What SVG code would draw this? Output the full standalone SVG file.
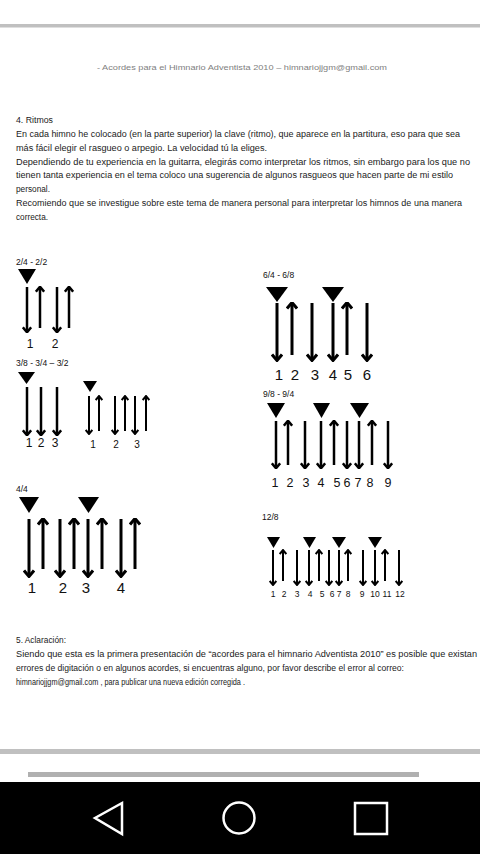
<svg xmlns="http://www.w3.org/2000/svg" width="480" height="854" viewBox="0 0 480 854">
<defs>
<marker id="ah" viewBox="0 0 12 12" refX="9.5" refY="6" markerWidth="4" markerHeight="4" markerUnits="strokeWidth" orient="auto">
<path d="M5,1 L11,6 L5,11" fill="none" stroke="#000" stroke-width="3"/>
</marker>
<style>
.t{font-family:"Liberation Sans",Arial,sans-serif;fill:#1a1a1a;font-size:8.5px}
.h{font-family:"Liberation Sans",Arial,sans-serif;fill:#111;font-size:8.5px}
.n{font-family:"Liberation Sans",Arial,sans-serif;fill:#111;text-anchor:middle}
.a{stroke:#000;fill:none;marker-end:url(#ah)}
.tri{fill:#000}
</style>
</defs>
<rect width="480" height="854" fill="#fff"/>
<rect x="0" y="24" width="480" height="3.5" fill="#c0c0c0"/>
<text x="242" y="70" text-anchor="middle" style="font-family:'Liberation Sans',Arial,sans-serif;font-size:8px;fill:#808080" textLength="290" lengthAdjust="spacingAndGlyphs">- Acordes para el Himnario Adventista 2010 – himnariojjgm@gmail.com</text>

<g id="section4">
<text class="t" x="16" y="123" textLength="37" lengthAdjust="spacingAndGlyphs">4. Ritmos</text>
<text class="t" x="16" y="137" textLength="444" lengthAdjust="spacingAndGlyphs">En cada himno he colocado (en la parte superior) la clave (ritmo), que aparece en la partitura, eso para que sea</text>
<text class="t" x="16" y="151" textLength="251" lengthAdjust="spacingAndGlyphs">más fácil elegir el rasgueo o arpegio.  La velocidad tú la eliges.</text>
<text class="t" x="16" y="165" textLength="454" lengthAdjust="spacingAndGlyphs">Dependiendo de tu experiencia en la guitarra, elegirás como interpretar los ritmos, sin embargo para los que no</text>
<text class="t" x="16" y="178" textLength="437" lengthAdjust="spacingAndGlyphs">tienen tanta experiencia en el tema coloco una sugerencia de algunos rasgueos que hacen parte de mi estilo</text>
<text class="t" x="16" y="192" textLength="34" lengthAdjust="spacingAndGlyphs">personal.</text>
<text class="t" x="16" y="206" textLength="446" lengthAdjust="spacingAndGlyphs">Recomiendo que se investigue sobre este tema de manera personal para interpretar los himnos de una manera</text>
<text class="t" x="16" y="220" textLength="32" lengthAdjust="spacingAndGlyphs">correcta.</text>
</g>

<g id="r24">
<text class="h" x="16" y="265">2/4 - 2/2</text>
<polygon class="tri" points="18,269 36,269 27,284"/>
<g class="a" stroke-width="2.5">
<line x1="27" y1="287" x2="27" y2="331"/>
<line x1="40" y1="328" x2="40" y2="288"/>
<line x1="57" y1="287" x2="57" y2="331"/>
<line x1="69" y1="328" x2="69" y2="288"/>
</g>
<g class="n" font-size="12"><text x="30" y="348">1</text><text x="55" y="348">2</text></g>
</g>

<g id="r38">
<text class="h" x="16" y="366">3/8 - 3/4 – 3/2</text>
<polygon class="tri" points="18,372 35,372 26.5,384"/>
<g class="a" stroke-width="2.5">
<line x1="27" y1="387" x2="27" y2="434"/>
<line x1="41" y1="387" x2="41" y2="434"/>
<line x1="57" y1="387" x2="57" y2="434"/>
</g>
<g class="n" font-size="12"><text x="29" y="447">1</text><text x="41" y="447">2</text><text x="55" y="447">3</text></g>
</g>

<g id="r38b">
<polygon class="tri" points="83,381 97,381 90,392"/>
<g class="a" stroke-width="2">
<line x1="89" y1="396" x2="89" y2="433"/>
<line x1="99" y1="431" x2="99" y2="397"/>
<line x1="115" y1="396" x2="115" y2="433"/>
<line x1="125" y1="431" x2="125" y2="397"/>
<line x1="135" y1="396" x2="135" y2="433"/>
<line x1="146" y1="431" x2="146" y2="397"/>
</g>
<g class="n" font-size="10"><text x="93" y="448">1</text><text x="116" y="448">2</text><text x="137" y="448">3</text></g>
</g>

<g id="r44">
<text class="h" x="16" y="492">4/4</text>
<polygon class="tri" points="19,497 39,497 29,513"/>
<polygon class="tri" points="78,497 99,497 88.5,513"/>
<g class="a" stroke-width="3">
<line x1="29" y1="519" x2="29" y2="575"/>
<line x1="43" y1="569" x2="43" y2="520"/>
<line x1="60" y1="519" x2="60" y2="575"/>
<line x1="74" y1="569" x2="74" y2="520"/>
<line x1="88" y1="519" x2="88" y2="575"/>
<line x1="102" y1="569" x2="102" y2="520"/>
<line x1="121" y1="519" x2="121" y2="575"/>
<line x1="135" y1="569" x2="135" y2="520"/>
</g>
<g class="n" font-size="15"><text x="32" y="593">1</text><text x="63" y="593">2</text><text x="86" y="593">3</text><text x="121" y="593">4</text></g>
</g>

<g id="r64">
<text class="h" x="263" y="278">6/4 - 6/8</text>
<polygon class="tri" points="266,287 288,287 277,302"/>
<polygon class="tri" points="322,287 344,287 333,302"/>
<g class="a" stroke-width="3">
<line x1="277" y1="303" x2="277" y2="359"/>
<line x1="292" y1="355" x2="292" y2="304"/>
<line x1="312" y1="303" x2="312" y2="359"/>
<line x1="333" y1="303" x2="333" y2="359"/>
<line x1="347" y1="355" x2="347" y2="304"/>
<line x1="367" y1="303" x2="367" y2="359"/>
</g>
<g class="n" font-size="15"><text x="279" y="380">1</text><text x="295" y="380">2</text><text x="315" y="380">3</text><text x="333" y="380">4</text><text x="348" y="380">5</text><text x="367" y="380">6</text></g>
</g>

<g id="r98">
<text class="h" x="263" y="397">9/8 - 9/4</text>
<polygon class="tri" points="267,403 285,403 276,418"/>
<polygon class="tri" points="313,403 330,403 321.5,418"/>
<polygon class="tri" points="350,403 369,403 359.5,418"/>
<g class="a" stroke-width="2.5">
<line x1="276" y1="421" x2="276" y2="467"/>
<line x1="288" y1="465" x2="288" y2="422"/>
<line x1="305" y1="421" x2="305" y2="467"/>
<line x1="321" y1="421" x2="321" y2="467"/>
<line x1="334" y1="465" x2="334" y2="422"/>
<line x1="347" y1="421" x2="347" y2="467"/>
<line x1="359" y1="421" x2="359" y2="467"/>
<line x1="372" y1="465" x2="372" y2="422"/>
<line x1="388" y1="421" x2="388" y2="467"/>
</g>
<g class="n" font-size="12.5"><text x="275" y="487">1</text><text x="290" y="487">2</text><text x="306" y="487">3</text><text x="321" y="487">4</text><text x="337" y="487">5</text><text x="347" y="487">6</text><text x="358" y="487">7</text><text x="370" y="487">8</text><text x="388" y="487">9</text></g>
</g>

<g id="r128">
<text class="h" x="262" y="520">12/8</text>
<polygon class="tri" points="267,537 280,537 273.5,548"/>
<polygon class="tri" points="303,537 316,537 309.5,548"/>
<polygon class="tri" points="332,537 346,537 339,548"/>
<polygon class="tri" points="368,537 382,537 375,548"/>
<g class="a" stroke-width="2">
<line x1="273" y1="550" x2="273" y2="584"/>
<line x1="283" y1="581" x2="283" y2="551"/>
<line x1="297" y1="550" x2="297" y2="584"/>
<line x1="309" y1="550" x2="309" y2="584"/>
<line x1="319" y1="581" x2="319" y2="551"/>
<line x1="329" y1="550" x2="329" y2="584"/>
<line x1="339" y1="550" x2="339" y2="584"/>
<line x1="348" y1="581" x2="348" y2="551"/>
<line x1="363" y1="550" x2="363" y2="584"/>
<line x1="375" y1="550" x2="375" y2="584"/>
<line x1="385" y1="581" x2="385" y2="551"/>
<line x1="399" y1="550" x2="399" y2="584"/>
</g>
<g class="n" font-size="8.5"><text x="273" y="597">1</text><text x="284" y="597">2</text><text x="297" y="597">3</text><text x="310" y="597">4</text><text x="322" y="597">5</text><text x="332" y="597">6</text><text x="339" y="597">7</text><text x="348" y="597">8</text><text x="362" y="597">9</text><text x="375" y="597">10</text><text x="387" y="597">11</text><text x="400" y="597">12</text></g>
</g>

<g id="section5">
<text class="t" x="16" y="643" textLength="50" lengthAdjust="spacingAndGlyphs">5. Aclaración:</text>
<text class="t" x="16" y="657" textLength="461" lengthAdjust="spacingAndGlyphs">Siendo que esta es la primera presentación de “acordes para el himnario Adventista 2010”  es posible que existan</text>
<text class="t" x="16" y="671" textLength="388" lengthAdjust="spacingAndGlyphs">errores de digitación o en algunos acordes, si encuentras alguno, por favor describe el error al correo:</text>
<text class="t" x="16" y="685" textLength="229" lengthAdjust="spacingAndGlyphs">himnariojjgm@gmail.com , para publicar una nueva edición corregida .</text>
</g>

<rect x="0" y="749" width="480" height="5" fill="#c0c0c0"/>
<rect x="28" y="772" width="391" height="5" fill="#b0b0b0"/>
<g id="navbar">
<rect x="0" y="782" width="480" height="72" fill="#000"/>
<polygon points="122,803 95,818 122,834" fill="none" stroke="#fff" stroke-width="2.5" stroke-linejoin="miter"/>
<circle cx="239" cy="818" r="15.5" fill="none" stroke="#fff" stroke-width="2.5"/>
<rect x="355" y="803" width="32" height="31" fill="none" stroke="#fff" stroke-width="2.5"/>
</g>
</svg>
